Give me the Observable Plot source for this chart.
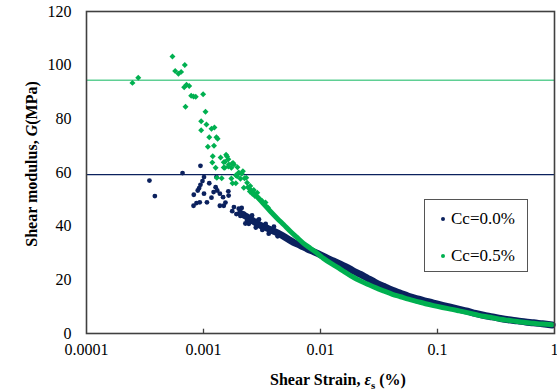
<!DOCTYPE html>
<html>
<head>
<meta charset="utf-8">
<script src="https://cdn.jsdelivr.net/npm/d3@7"></script>
<script src="https://cdn.jsdelivr.net/npm/@observablehq/plot@0.6"></script>
<style>
  html, body { margin: 0; padding: 0; background: #fff; }
  #wrap { position: relative; width: 557px; height: 392px; font-family: "Liberation Serif", "Times New Roman", serif; }
  #wrap svg { display: block; }
  .ylab { position: absolute; left: 32px; top: 164px; transform: translate(-50%, -50%) rotate(-90deg); white-space: nowrap; font-weight: bold; font-size: 16px; color: #000; }
  .xlab { position: absolute; left: 338px; top: 381px; transform: translate(-50%, -50%); white-space: nowrap; font-weight: bold; font-size: 16px; color: #000; }
  .legend { position: absolute; left: 424px; top: 199px; width: 104px; height: 73px; border: 1px solid #555; background: #fff; box-sizing: border-box; }
  .legend .item { position: absolute; left: 16px; font-size: 17px; white-space: nowrap; line-height: 20px; color: #000; }
  .legend .sw { display: inline-block; width: 4px; height: 4px; border-radius: 50%; margin-right: 6px; vertical-align: middle; position: relative; top: -1px; }
</style>
</head>
<body>
<div id="wrap"></div>
<script>
// ---- data (strain in %, G in MPa) ----
const seriesNames = ["Cc=0.0%", "Cc=0.5%"];
const seriesColors = ["#0b215e", "#00b050"];
const refLineValues = [59.2, 94.4];
const refLineColors = ["#0b215e", "#5fcf94"];
const xTicks = [0.0001, 0.001, 0.01, 0.1, 1];
const xTickLabels = ["0.0001", "0.001", "0.01", "0.1", "1"];
const yTicks = [0, 20, 40, 60, 80, 100, 120];

// Cc=0.0% scattered points (small strain)
const blueStrain = [0.000345,0.000384,0.000662,0.000942,0.00101,0.000980,0.000942,0.000918,0.000893,0.00112,0.00129,0.00127,0.000826,0.000822,0.000929,0.000871,0.00101,0.00107,0.00117,0.00122,0.00138,0.00131,0.00147,0.00154,0.00163,0.00164,0.00138,0.00149,0.00176,0.00182,0.00191,0.00200,0.00207,0.00221,0.00236,0.00252,0.00269,0.00244,0.00288,0.00307,0.00327,0.00350,0.00361,0.00212,0.00228,0.00260,0.00280,0.00298,0.00318,0.00340,0.00375,0.00400,0.00430];
const blueG      = [57.0,51.2,59.8,62.5,58.3,56.8,55.4,54.2,53.3,56.0,58.3,54.5,51.7,47.6,48.9,48.6,52.1,48.9,50.6,52.7,52.1,53.3,50.8,48.8,53.0,51.4,47.6,47.6,45.6,47.1,44.5,46.5,43.8,44.7,42.1,43.3,41.5,40.9,42.1,40.3,39.6,39.0,37.2,46.8,41.0,44.0,39.5,42.5,38.6,40.8,38.0,39.8,36.2];
// Cc=0.0% dense curve
const blueCurveStrain = [0.00207,0.00238,0.00268,0.00307,0.00352,0.00396,0.00455,0.00522,0.00588,0.00675,0.00774,0.00871,0.0100,0.0115,0.0129,0.0148,0.0170,0.0191,0.0220,0.0252,0.0295,0.0345,0.0412,0.0483,0.0565,0.0674,0.0789,0.0924,0.110,0.129,0.151,0.180,0.211,0.247,0.295,0.345,0.404,0.483,0.565,0.662,0.789,0.955];
const blueCurveG      = [44.8,43.3,41.8,40.3,39.2,38.2,36.9,35.3,34.0,32.8,31.5,30.5,29.3,28.0,27.0,25.8,24.6,23.3,22.0,20.6,19.0,17.6,16.1,15.0,13.9,12.9,12.1,11.3,10.5,9.8,9.1,8.3,7.5,6.8,6.2,5.6,5.1,4.7,4.3,4.0,3.6,3.2];

// Cc=0.5% scattered points (small strain)
const greenStrain = [0.000247,0.000277,0.000543,0.000573,0.000611,0.000644,0.000692,0.000684,0.000716,0.000755,0.000702,0.000785,0.000822,0.000859,0.000993,0.00104,0.000955,0.00106,0.00117,0.00124,0.000955,0.00112,0.00129,0.00132,0.00109,0.00123,0.00120,0.00140,0.00156,0.00163,0.00159,0.00119,0.00153,0.00149,0.00165,0.00179,0.00176,0.00182,0.00127,0.00152,0.00149,0.00163,0.00173,0.00195,0.00217,0.00130,0.00143,0.00173,0.00189,0.00194,0.00207,0.00224,0.00232,0.00177,0.00189,0.00236,0.00221,0.00239,0.00249,0.00261,0.00275,0.00251,0.00269,0.00288,0.00302,0.00316,0.00339,0.00355,0.00200,0.00212];
const greenG      = [93.4,95.3,103.2,97.8,96.8,97.5,100.1,91.8,92.7,92.2,84.5,88.6,88.3,88.2,89.2,82.6,79.1,77.9,76.3,76.8,75.7,73.1,73.1,72.6,69.6,70.0,66.1,65.6,66.6,64.9,66.0,63.7,64.0,63.8,63.0,63.5,63.4,63.0,61.8,61.8,61.9,62.2,61.8,62.0,60.5,58.0,57.9,57.8,59.0,58.6,57.7,57.9,58.0,56.0,56.0,56.2,54.3,54.5,52.9,52.1,51.2,55.0,53.5,52.5,50.0,49.5,48.8,47.0,60.0,59.5];
// Cc=0.5% dense curve
const greenCurveStrain = [0.00252,0.00290,0.00326,0.00374,0.00429,0.00483,0.00554,0.00636,0.00716,0.00822,0.00942,0.0106,0.0122,0.0140,0.0157,0.0180,0.0211,0.0252,0.0295,0.0345,0.0412,0.0483,0.0565,0.0674,0.0789,0.0924,0.110,0.129,0.151,0.180,0.211,0.247,0.295,0.345,0.404,0.483,0.565,0.662,0.789,0.955];
const greenCurveG      = [53.5,50.8,48.3,45.5,42.8,40.6,38.0,35.6,33.6,31.7,29.8,28.0,26.2,24.6,23.2,21.6,19.9,18.4,17.1,15.9,14.6,13.7,12.8,11.9,11.1,10.4,9.7,9.1,8.5,7.8,7.1,6.4,5.9,5.3,4.9,4.5,4.1,3.8,3.5,3.3];

// ---- build tables ----
const zip = (xs, ys) => xs.map((x, i) => ({x, y: ys[i]}));
const blueDots = zip(blueStrain, blueG);
const blueCurve = zip(blueCurveStrain, blueCurveG);
const greenDots = zip(greenStrain, greenG);
const greenCurve = zip(greenCurveStrain, greenCurveG);
const refLines = refLineValues.map((v, i) => ({v, c: refLineColors[i]}));

const chart = Plot.plot({
  width: 557,
  height: 392,
  marginLeft: 86,
  marginRight: 3,
  marginTop: 11,
  marginBottom: 59,
  style: {fontFamily: "Liberation Serif, Times New Roman, serif", fontSize: "16px", color: "#000", background: "#fff", overflow: "visible"},
  x: {type: "log", domain: [0.0001, 1], label: null},
  y: {domain: [0, 120], label: null},
  marks: [
    Plot.ruleY(refLines, {y: "v", stroke: "c", strokeWidth: 1.4}),
    Plot.line(blueCurve, {x: "x", y: "y", stroke: seriesColors[0], strokeWidth: 7, curve: "catmull-rom", strokeLinecap: "round"}),
    Plot.dot(blueDots, {x: "x", y: "y", fill: seriesColors[0], r: 2.4}),
    Plot.line(greenCurve, {x: "x", y: "y", stroke: seriesColors[1], strokeWidth: 5, curve: "catmull-rom", strokeLinecap: "round"}),
    Plot.dot(greenDots, {x: "x", y: "y", fill: seriesColors[1], symbol: "diamond2", r: 2.7}),
    Plot.ruleX(xTicks.slice(1, -1), {y1: 0, y2: 1.6, stroke: "#404040", strokeWidth: 1.3}),
    Plot.frame({stroke: "#404040", strokeWidth: 1.6}),
    Plot.axisX({ticks: xTicks, tickFormat: (d) => xTickLabels[xTicks.indexOf(d)], tickSize: 0, tickPadding: 10, fontSize: 16}),
    Plot.axisY({ticks: yTicks, tickSize: 0, tickPadding: 15, fontSize: 16})
  ]
});

const wrap = document.getElementById("wrap");
wrap.appendChild(chart);

const ylab = document.createElement("div");
ylab.className = "ylab";
ylab.innerHTML = "Shear modulus, <i>G</i>(MPa)";
wrap.appendChild(ylab);

const xlab = document.createElement("div");
xlab.className = "xlab";
xlab.innerHTML = "Shear Strain, <i>ε</i><sub style=\"font-size:11px\">s</sub> (%)";
wrap.appendChild(xlab);

const legend = document.createElement("div");
legend.className = "legend";
seriesNames.forEach((name, i) => {
  const item = document.createElement("div");
  item.className = "item";
  item.style.top = (i === 0 ? 9 : 46) + "px";
  item.innerHTML = `<span class="sw" style="background:${seriesColors[i]}"></span>${name}`;
  legend.appendChild(item);
});
wrap.appendChild(legend);
</script>
</body>
</html>
